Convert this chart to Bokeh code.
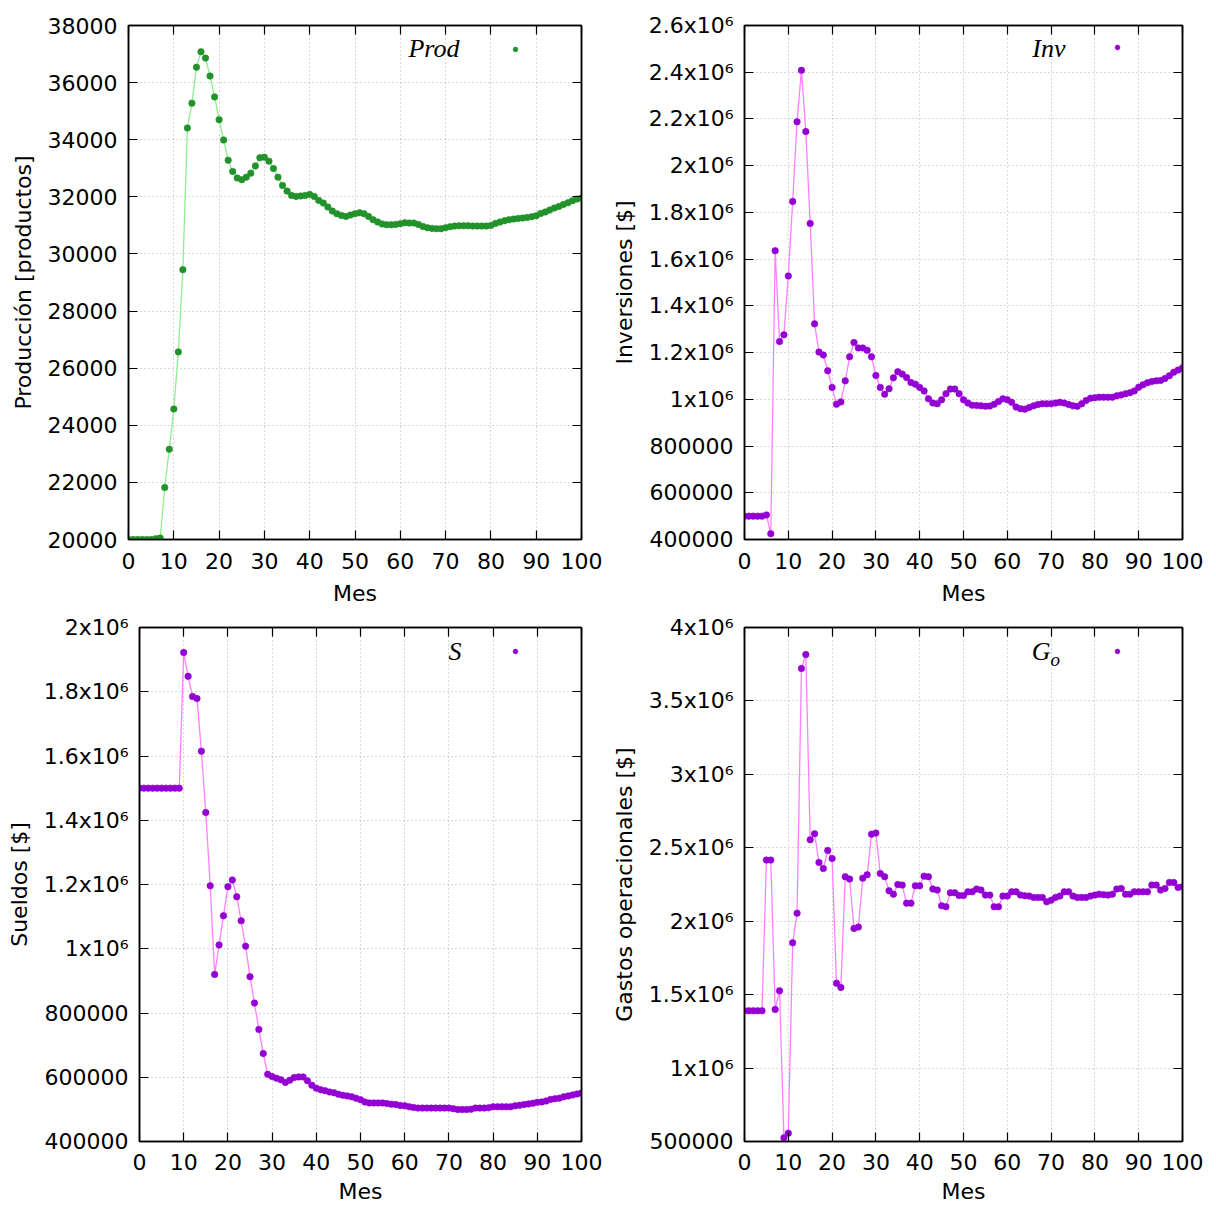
from bokeh.plotting import figure
from bokeh.layouts import row, column
from bokeh.models import (Range1d, FixedTicker, LinearAxis, Label, Legend,
                          LegendItem, CustomJSTickFormatter)
from bokeh.core.properties import value
from bokeh.embed import file_html
from bokeh.resources import INLINE

# ---------------- data ----------------
months = list(range(101))

prod = [20000, 20000, 20000, 20000, 20000, 20000, 20030, 20050, 21820, 23160,
        24570, 26570, 29450, 34410, 35280, 36540, 37080, 36860, 36230, 35500,
        34700, 33990, 33280, 32890, 32660, 32600, 32690, 32830, 33080, 33370,
        33390, 33250, 32990, 32690, 32400, 32200, 32050, 32015, 32030, 32050,
        32085, 32015, 31875, 31782, 31642, 31502, 31408, 31350, 31315, 31362,
        31408, 31443, 31408, 31315, 31198, 31117, 31047, 31023, 31023, 31035,
        31058, 31093, 31082, 31082, 31035, 30965, 30918, 30895, 30883, 30883,
        30918, 30953, 30977, 30988, 30988, 30988, 30977, 30977, 30977, 30977,
        31000, 31070, 31117, 31163, 31198, 31222, 31245, 31257, 31280, 31303,
        31338, 31420, 31467, 31537, 31607, 31665, 31735, 31793, 31863, 31922,
        31957]

inv = [500000, 500000, 500000, 500000, 500000, 505000, 425000, 1636000, 1247000, 1276000,
       1528000, 1847000, 2188000, 2408000, 2146000, 1753000, 1323000, 1202000, 1190000, 1122000,
       1051000, 979000, 989000, 1079000, 1182000, 1243000, 1220000, 1220000, 1210000, 1182000,
       1102000, 1051000, 1022000, 1045000, 1092000, 1118000, 1108000, 1093000, 1072000, 1065000,
       1051000, 1036000, 1002000, 984000, 981000, 998000, 1024000, 1044000, 1044000, 1024000,
       998000, 984000, 975000, 974000, 972000, 970000, 971000, 979000, 991000, 1002000,
       998000, 987000, 967000, 960000, 958000, 965000, 972000, 978000, 981000, 981000,
       981000, 984000, 987000, 984000, 978000, 972000, 970000, 981000, 995000, 1005000,
       1007000, 1009000, 1009000, 1009000, 1009000, 1015000, 1019000, 1024000, 1028000, 1036000,
       1052000, 1062000, 1071000, 1076000, 1079000, 1081000, 1089000, 1101000, 1116000, 1125000,
       1135000]

sueldos = [1500000, 1500000, 1500000, 1500000, 1500000, 1500000, 1500000, 1500000, 1500000, 1500000,
           1922000, 1848000, 1785000, 1779000, 1615000, 1424000, 1196000, 920000, 1012000, 1103000,
           1193000, 1214000, 1162000, 1087000, 1008000, 913000, 831000, 749000, 674000, 609000,
           602000, 597000, 592000, 584000, 591000, 599000, 601000, 601000, 589000, 575000,
           566000, 561000, 558000, 554000, 552000, 547000, 544000, 542000, 539000, 535000,
           530000, 523000, 520000, 520000, 520000, 520000, 518000, 516000, 515000, 512000,
           511000, 508000, 506000, 504000, 504000, 504000, 504000, 504000, 504000, 504000,
           504000, 502000, 499500, 499500, 499500, 500500, 504000, 504000, 504000, 505000,
           508000, 508000, 508000, 508000, 508000, 511000, 513000, 515000, 517000, 519000,
           522000, 523000, 526000, 531000, 533000, 535000, 539000, 542000, 545000, 548000,
           551000]

gastos = [1390000, 1390000, 1390000, 1390000, 1390000, 2416000, 2416000, 1399000, 1526000, 525000,
          557000, 1853000, 2055000, 3721000, 3816000, 2554000, 2595000, 2400000, 2359000, 2482000,
          2427000, 1578000, 1549000, 2303000, 2287000, 1951000, 1960000, 2293000, 2316000, 2593000,
          2600000, 2325000, 2303000, 2207000, 2184000, 2250000, 2246000, 2123000, 2123000, 2241000,
          2241000, 2307000, 2303000, 2219000, 2212000, 2105000, 2098000, 2194000, 2194000, 2175000,
          2175000, 2200000, 2200000, 2219000, 2212000, 2178000, 2178000, 2098000, 2098000, 2171000,
          2171000, 2200000, 2200000, 2178000, 2173000, 2171000, 2162000, 2162000, 2162000, 2132000,
          2143000, 2162000, 2171000, 2200000, 2200000, 2171000, 2162000, 2162000, 2162000, 2171000,
          2178000, 2184000, 2180000, 2178000, 2184000, 2219000, 2223000, 2184000, 2184000, 2200000,
          2200000, 2200000, 2200000, 2246000, 2246000, 2212000, 2223000, 2264000, 2264000, 2230000,
          2234000]

x_ticks = list(range(0, 101, 10))

prod_ticks = list(range(20000, 38001, 2000))
prod_labels = [str(t) for t in prod_ticks]

inv_ticks = [400000, 600000, 800000, 1000000, 1200000, 1400000, 1600000,
             1800000, 2000000, 2200000, 2400000, 2600000]
inv_labels = ["400000", "600000", "800000", "1x10⁶", "1.2x10⁶", "1.4x10⁶", "1.6x10⁶",
              "1.8x10⁶", "2x10⁶", "2.2x10⁶", "2.4x10⁶", "2.6x10⁶"]

s_ticks = [400000, 600000, 800000, 1000000, 1200000, 1400000, 1600000, 1800000, 2000000]
s_labels = ["400000", "600000", "800000", "1x10⁶", "1.2x10⁶", "1.4x10⁶", "1.6x10⁶",
            "1.8x10⁶", "2x10⁶"]

g_ticks = [500000, 1000000, 1500000, 2000000, 2500000, 3000000, 3500000, 4000000]
g_labels = ["500000", "1x10⁶", "1.5x10⁶", "2x10⁶", "2.5x10⁶", "3x10⁶", "3.5x10⁶", "4x10⁶"]

GREEN_LINE = "#90ee90"
GREEN_PT = "#22922a"
VIOLET_LINE = "#ff80ff"
VIOLET_PT = "#9400d3"

FONT = "DejaVu Sans"
TICK_SIZE = "22px"


def make_panel(x, y, ylabel, yticks, ylabels, yr, width, height, borders, xstand,
               line_color, pt_color, legend_text, legend_sub, legend_pos, text_pos):
    left, right, top, bottom = borders
    p = figure(width=width, height=height, output_backend="svg", toolbar_location=None,
               x_range=Range1d(0, 100), y_range=Range1d(*yr),
               min_border_left=left, min_border_right=right,
               min_border_top=top, min_border_bottom=bottom)
    p.outline_line_color = "black"
    p.outline_line_width = 1.5
    p.background_fill_color = "white"
    p.border_fill_color = "white"

    for ax in (p.xaxis[0], p.yaxis[0]):
        ax.axis_line_color = "black"
        ax.axis_line_width = 1.5
        ax.major_tick_in = 9
        ax.major_tick_out = 0
        ax.major_tick_line_width = 1.2
        ax.minor_tick_line_color = None
        ax.major_label_text_font = FONT
        ax.major_label_text_font_size = TICK_SIZE
        ax.major_label_text_color = "black"
        ax.axis_label_text_font = FONT
        ax.axis_label_text_font_size = "22px"
        ax.axis_label_text_font_style = "normal"
        ax.axis_label_text_color = "black"

    p.xaxis.ticker = FixedTicker(ticks=x_ticks)
    p.xaxis.axis_label = "Mes"
    p.xaxis.major_label_standoff = xstand[0]
    p.xaxis.axis_label_standoff = xstand[1]

    p.yaxis.ticker = FixedTicker(ticks=yticks)
    p.yaxis.major_label_overrides = {t: l for t, l in zip(yticks, ylabels)}
    p.yaxis.axis_label = ylabel
    p.yaxis.major_label_standoff = 11
    p.yaxis.axis_label_standoff = 9

    # mirror ticks (top and right)
    for loc, ticks in (("above", x_ticks), ("right", yticks)):
        ax = LinearAxis(ticker=FixedTicker(ticks=ticks),
                        formatter=CustomJSTickFormatter(code="return ''"),
                        axis_line_color="black", axis_line_width=1.5,
                        major_tick_in=9, major_tick_out=0, major_tick_line_width=1.2,
                        minor_tick_line_color=None, major_label_standoff=0,
                        major_label_text_font_size="1px")
        p.add_layout(ax, loc)

    for g in (p.xgrid[0], p.ygrid[0]):
        g.grid_line_color = "#b0b0b0"
        g.grid_line_dash = "1 3"
        g.grid_line_width = 1
    p.xgrid.ticker = FixedTicker(ticks=x_ticks)
    p.ygrid.ticker = FixedTicker(ticks=yticks)

    p.line(x, y, line_color=line_color, line_width=1.3)
    pts = p.scatter(x, y, size=6.5, fill_color=pt_color, line_color=pt_color,
                    line_width=0.6)

    leg = Legend(items=[LegendItem(label=value(""), renderers=[pts])],
                 location=legend_pos, glyph_width=12, glyph_height=12,
                 label_width=0, label_height=12, label_standoff=0,
                 padding=0, margin=0, spacing=0,
                 background_fill_alpha=0, border_line_alpha=0)
    p.add_layout(leg)

    tx, ty = text_pos
    p.add_layout(Label(x=tx, y=ty, x_units="screen", y_units="screen", text=legend_text,
                       text_align="right", text_baseline="middle",
                       text_font="Liberation Serif", text_font_style="italic",
                       text_font_size="26px", text_color="black"))
    if legend_sub:
        p.add_layout(Label(x=tx, y=ty - 8, x_units="screen", y_units="screen", text=legend_sub,
                           text_align="left", text_baseline="middle",
                           text_font="Liberation Serif", text_font_style="italic",
                           text_font_size="19px", text_color="black"))
    return p


p1 = make_panel(months, prod, "Producción [productos]", prod_ticks, prod_labels,
                (20000, 38000), 608, 608, (128, 27, 25, 69), (13, 9),
                GREEN_LINE, GREEN_PT, "Prod", None, (381, 484), (331, 491))
p2 = make_panel(months, inv, "Inversiones [$]", inv_ticks, inv_labels,
                (400000, 2600000), 608, 608, (132, 34, 25, 68), (13, 9),
                VIOLET_LINE, VIOLET_PT, "Inv", None, (367, 486), (321, 491))
p3 = make_panel(months, sueldos, "Sueldos [$]", s_ticks, s_labels,
                (400000, 2000000), 608, 599, (139, 27, 19, 66), (12, 6),
                VIOLET_LINE, VIOLET_PT, "S", None, (370, 484), (322, 490))
p4 = make_panel(months, gastos, "Gastos operacionales [$]", g_ticks, g_labels,
                (500000, 4000000), 608, 599, (132, 34, 19, 66), (12, 6),
                VIOLET_LINE, VIOLET_PT, "G", "o", (367, 484), (306, 490))

layout = column(row(p1, p2), row(p3, p4))

with open("out.html", "w") as f:
    f.write(file_html(layout, INLINE))
